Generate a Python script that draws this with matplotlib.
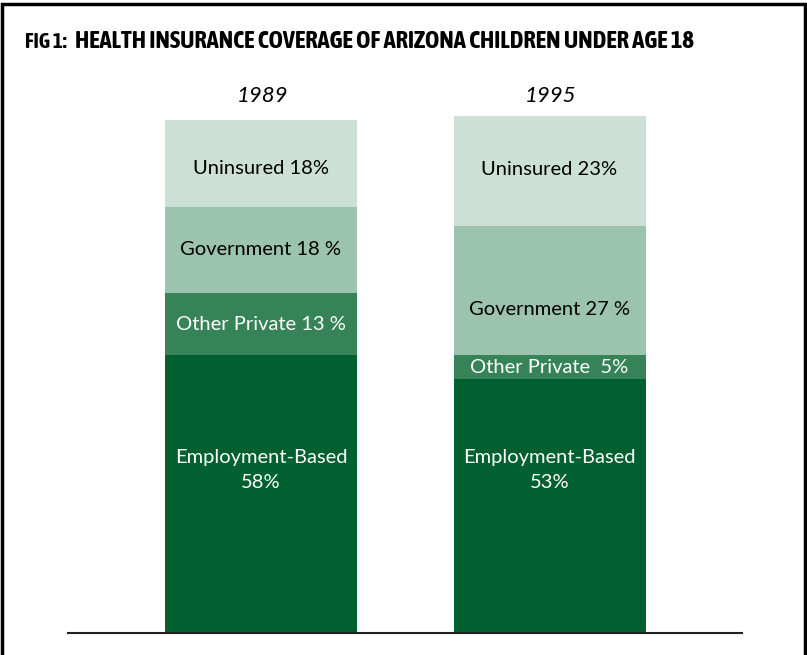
import matplotlib
matplotlib.use("Agg")
import matplotlib.pyplot as plt
from matplotlib import font_manager
from matplotlib.patches import Rectangle

# Data (percent of children)
years = ["1989", "1995"]
categories = ["Employment-Based", "Other Private", "Government", "Uninsured"]
employment = [58, 53]
other_private = [13, 5]
government = [18, 27]
uninsured = [18, 23]

labels_1989 = ["Employment-Based\n58%", "Other Private 13 %", "Government 18 %", "Uninsured 18%"]
labels_1995 = ["Employment-Based\n53%", "Other Private  5%", "Government 27 %", "Uninsured 23%"]

colors = ["#006030", "#358357", "#9cc3ae", "#cde0d6"]
text_colors = ["white", "white", "black", "black"]

# pick a narrow, upright, bold font for the title if one is installed
fonts = font_manager.fontManager.ttflist
narrow_bold = sorted({f.name for f in fonts
                      if ("Narrow" in f.name or "Condensed" in f.name
                          or f.stretch in ("condensed", "semi-condensed"))
                      and f.style == "normal"
                      and (f.weight in ("bold", "semibold", "demibold") or
                           (isinstance(f.weight, int) and f.weight >= 600))})
title_family = narrow_bold[0] if narrow_bold else "DejaVu Sans"

fig = plt.figure(figsize=(8.07, 6.55), dpi=100)
ax = fig.add_axes([68 / 807, 1 - 633 / 655, 674 / 807, 523 / 655])

px_per_unit = 288.5  # distance between bar centres in pixels
px_per_pct = 4.79
ax.set_xlim(-193 / px_per_unit, -193 / px_per_unit + 674 / px_per_unit)
ax.set_ylim(0, 523 / px_per_pct)
bar_width = 192 / px_per_unit

series = [employment, other_private, government, uninsured]
all_labels = [labels_1989, labels_1995]
# small vertical nudges of labels (in %) relative to segment centres
nudges = [[5, 0, 0, -1], [7.5, 0, -4, 0.3]]

bottoms = [0, 0]
for k, values in enumerate(series):
    ax.bar(range(len(years)), values, width=bar_width, bottom=bottoms,
           color=colors[k], edgecolor="none")
    for i, v in enumerate(values):
        y = bottoms[i] + v / 2 + nudges[i][k]
        ax.text(i, y, all_labels[i][k], ha="center", va="center",
                color=text_colors[k], fontsize=14.5, family="Lato",
                linespacing=1.55)
    bottoms = [b + v for b, v in zip(bottoms, values)]

for i, yr in enumerate(years):
    ax.text(i + 0.005, (633 - 96) / px_per_pct, yr, ha="center", va="center",
            fontsize=16, style="italic", family="Lato", clip_on=False)

for s in ["top", "right", "left"]:
    ax.spines[s].set_visible(False)
ax.spines["bottom"].set_linewidth(1.5)
ax.spines["bottom"].set_color("#222222")
ax.set_xticks([])
ax.set_yticks([])

# title, sized so it spans the same width as in the original
base = 1 - 48 / 655
t1 = fig.text(25 / 807, base, "FIG 1:", fontsize=12, fontweight="bold",
              style="normal", family=title_family, va="baseline")
t2 = fig.text(75 / 807, base,
              "HEALTH INSURANCE COVERAGE OF ARIZONA CHILDREN UNDER AGE 18",
              fontsize=17, fontweight="bold", style="normal",
              family=title_family, va="baseline")
fig.canvas.draw()
for t, target in [(t1, 42), (t2, 617)]:
    w = t.get_window_extent().width
    t.set_fontsize(t.get_fontsize() * target / w)

# frame
fig.patches.append(Rectangle((2 / 807, -0.05), 803 / 807, 1.05 - 4 / 655,
                             transform=fig.transFigure, fill=False,
                             edgecolor="black", linewidth=2.5))

plt.savefig("out.png", dpi=100)
